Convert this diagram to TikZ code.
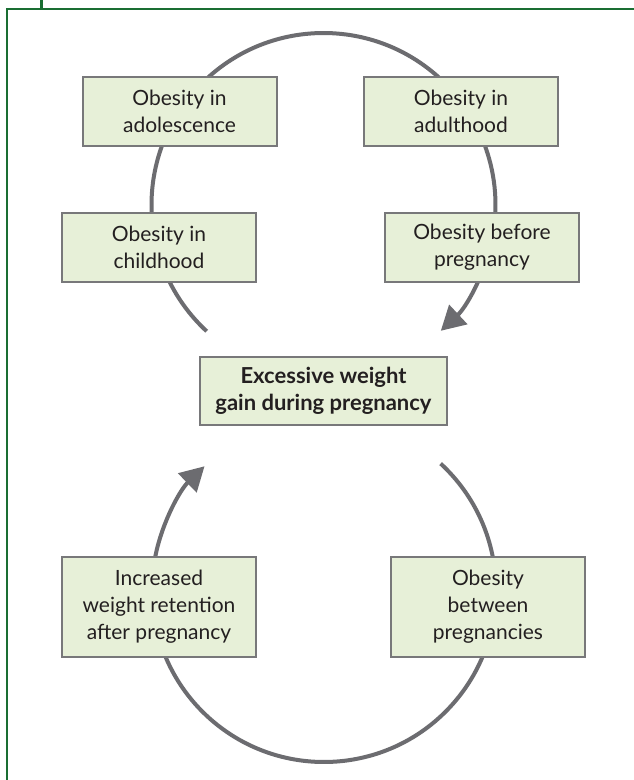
\documentclass[tikz,border=0pt]{standalone}
\usepackage{fontspec}
\setmainfont{Lato}
\usetikzlibrary{arrows.meta}
\definecolor{frame}{RGB}{26,110,50}
\definecolor{boxfill}{RGB}{231,240,216}
\definecolor{boxline}{RGB}{120,120,122}
\definecolor{loop}{RGB}{108,108,112}
\definecolor{ink}{RGB}{35,31,32}
\tikzset{
  stagebox/.style={draw=boxline, line width=2pt, fill=boxfill, text=ink,
    minimum width=194pt, minimum height=69pt, align=center, inner sep=2pt,
    font=\fontsize{21}{27}\selectfont},
  tallbox/.style={stagebox, minimum height=100pt},
  centerbox/.style={stagebox, minimum width=247pt, minimum height=68pt,
    font=\fontsize{22}{27}\selectfont\bfseries},
  loopline/.style={draw=loop, line width=4pt},
  looptip/.style={-{Triangle[length=24pt,width=26pt]}}
}
\begin{document}
\begin{tikzpicture}[x=1pt,y=-1pt]
\useasboundingbox (0,0) rectangle (634,780);
\fill[white] (0,0) rectangle (634,780);
% frame
\draw[frame, line width=2pt] (7,781) -- (7,9) -- (635,9);
\draw[frame, line width=3pt] (41,-1) -- (41,9);
% loops
\coordinate (ustart) at ({323.5+172*cos(132.8)},{205+172*sin(132.8)});
\draw[loopline, looptip] (ustart) arc[start angle=132.8, end angle=407, radius=172];
\coordinate (lstart) at ({324+172*cos(-47.3)},{590+172*sin(-47.3)});
\draw[loopline, looptip] (lstart) arc[start angle=-47.3, end angle=226, radius=172];
% boxes
\node[stagebox] (adol) at (179.5,111.5) {Obesity in\\adolescence};
\node[stagebox] (adult) at (461,111.5) {Obesity in\\adulthood};
\node[stagebox] (child) at (159,247.5) {Obesity in\\childhood};
\node[stagebox] (before) at (482,247.5) {Obesity before\\pregnancy};
\node[centerbox] (gain) at (323.5,391) {Excessive weight\\gain during pregnancy};
\node[tallbox] (retain) at (159,607) {Increased\\weight retention\\after pregnancy};
\node[tallbox] (between) at (488,607) {Obesity\\between\\pregnancies};
\end{tikzpicture}
\end{document}
